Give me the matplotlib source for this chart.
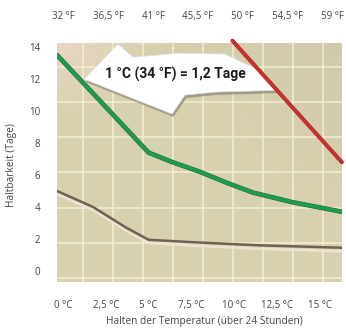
import numpy as np
import matplotlib.pyplot as plt
import matplotlib.patheffects as pe
from matplotlib.patches import Polygon

# Temperature (deg C) vs. shelf life (days)
green_x = [-0.35, 5.0, 6.4, 8.0, 9.6, 11.1, 13.4, 16.3]
green_y = [13.5, 7.4, 6.8, 6.2, 5.5, 4.9, 4.3, 3.7]

red_x = [9.9, 16.3]
red_y = [14.4, 6.8]

brown_x = [-0.35, 1.75, 3.7, 5.0, 7.5, 11.5, 16.3]
brown_y = [5.0, 4.0, 2.7, 1.95, 1.8, 1.6, 1.45]

c_ticks = [0, 2.5, 5, 7.5, 10, 12.5, 15]
c_labels = ["0 °C", "2,5 °C", "5 °C", "7,5 °C", "10 °C", "12,5 °C", "15 °C"]
f_ticks = [32, 36.5, 41, 45.5, 50, 54.5, 59]
f_labels = ["32 °F", "36,5 °F", "41 °F", "45,5 °F", "50 °F", "54,5 °F", "59 °F"]
y_ticks = [0, 2, 4, 6, 8, 10, 12, 14]

plt.rcParams['font.family'] = ['Open Sans', 'DejaVu Sans']

fig = plt.figure(figsize=(3.46, 3.29), dpi=100)
ax = fig.add_axes([0.165, 0.143, 0.823, 0.726])
ax.set_xlim(-0.35, 16.3)
ax.set_ylim(-0.69, 14.25)

# background: khaki with a lighter top-left corner
h, w = 60, 60
yy, xx = np.mgrid[0:1:h * 1j, 0:1:w * 1j]
base = np.array([0.85, 0.82, 0.69])
pink = np.array([0.91, 0.84, 0.77])
dark = np.array([0.80, 0.78, 0.66])
t_pink = np.clip(1 - np.hypot(xx / 0.3, yy / 0.3), 0, 1)[..., None]
t_dark = np.clip((xx + (1 - yy)) - 1.2, 0, 1)[..., None] * 0.8
img = base * (1 - t_pink) + pink * t_pink
img = img * (1 - t_dark) + dark * t_dark
ax.imshow(img, extent=[0, 1, 0, 1], transform=ax.transAxes, aspect='auto',
          zorder=0, interpolation='bilinear')

grid_col = '#f3eed2'
for gx in np.arange(1.17, 16.3, 1.75):
    ax.axvline(gx, color=grid_col, lw=1.1, zorder=1)
for gy in np.arange(-0.44, 14.2, 2.2):
    ax.axhline(gy, color=grid_col, lw=1.1, zorder=1)

# white arrow (axes fraction), drawn beneath the curves
arrow_pts = np.array([(0.095, 0.849), (0.214, 0.996), (0.267, 0.941), (0.432, 0.958),
                      (0.589, 0.954), (0.695, 0.895), (0.775, 0.803), (0.677, 0.799),
                      (0.554, 0.795), (0.449, 0.782), (0.404, 0.703)])
shadow_pts = arrow_pts + np.array([0.005, -0.012])
ax.add_patch(Polygon(shadow_pts, closed=True, transform=ax.transAxes,
                     facecolor='#7d786c', edgecolor='none', alpha=0.6, zorder=2))
ax.add_patch(Polygon(arrow_pts, closed=True, transform=ax.transAxes,
                     facecolor='white', edgecolor='#e0e0e0', lw=0.5, zorder=2.5))

ax.plot(brown_x, brown_y, color='#6f6253', lw=1.8, zorder=3,
        solid_capstyle='round',
        path_effects=[pe.SimpleLineShadow(offset=(0.5, -2.5), shadow_color='#efe6d6', alpha=0.9),
                      pe.Normal()])
ax.plot(green_x, green_y, color='#1f9b4d', lw=2.6, zorder=4,
        solid_capstyle='round',
        path_effects=[pe.Stroke(linewidth=3.3, foreground='#17643a'), pe.Normal()])
ax.plot(red_x, red_y, color='#cf2e2e', lw=2.2, zorder=4, clip_on=False,
        solid_capstyle='round',
        path_effects=[pe.Stroke(linewidth=2.8, foreground='#8e2a2a'), pe.Normal()])

ax.text(0.414, 0.868, "1 °C (34 °F) = 1,2 Tage", transform=ax.transAxes,
        ha='center', va='center', fontsize=10, fontweight='bold',
        family=['Liberation Sans Narrow', 'Roboto', 'DejaVu Sans'],
        color='#1a1a1a', zorder=7)

for s in ax.spines.values():
    s.set_visible(False)
ax.set_xticks(c_ticks)
ax.set_xticklabels(c_labels)
ax.set_yticks(y_ticks)
ax.tick_params(axis='both', length=0, labelsize=7, labelcolor='#444444')
ax.tick_params(axis='x', pad=13)
ax.tick_params(axis='y', pad=12)

top = ax.twiny()
top.set_xlim(31.4, 59.9)
top.set_xticks(f_ticks)
top.set_xticklabels(f_labels)
top.tick_params(axis='x', length=0, labelsize=7, labelcolor='#444444', pad=15)
for s in top.spines.values():
    s.set_visible(False)

fig.text(12 / 346, 0.498, "Haltbarkeit (Tage)", rotation=90, ha='center',
         va='center', fontsize=7.3, color='#444444')
fig.text(0.592, 0.024, "Halten der Temperatur (über 24 Stunden)", ha='center',
         va='center', fontsize=7.3, color='#444444')

fig.savefig("out.png", dpi=100)
